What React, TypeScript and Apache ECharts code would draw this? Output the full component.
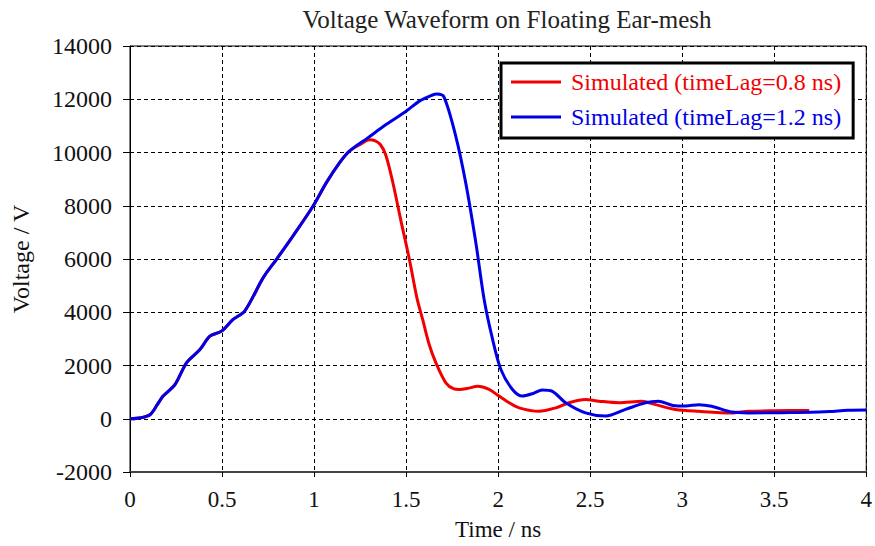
import React, { useEffect, useRef } from "react";
import * as echarts from "echarts";

const FONT = '"Liberation Serif", "Times New Roman", serif';

const titleText = "Voltage Waveform on Floating Ear-mesh";
const xName = "Time / ns";
const yName = "Voltage / V";
const seriesNames = ["Simulated (timeLag=0.8 ns)", "Simulated (timeLag=1.2 ns)"];
const seriesColors = ["#f20000", "#0000e8"];

// Blue curve: timeLag = 1.2 ns
const blueX = [0, 0.06, 0.11, 0.15, 0.18, 0.245, 0.307, 0.38, 0.434, 0.497, 0.56, 0.623, 0.723, 0.795, 0.885, 0.994, 1.066, 1.138, 1.192, 1.292, 1.391, 1.5, 1.572, 1.64, 1.667, 1.705, 1.77, 1.824, 1.879, 1.924, 1.97, 2.015, 2.078, 2.132, 2.19, 2.24, 2.295, 2.367, 2.475, 2.584, 2.692, 2.8, 2.87, 2.95, 3.02, 3.09, 3.16, 3.27, 3.36, 3.54, 3.7, 3.8, 3.9, 4.0];
const blueY = [0, 40, 160, 550, 850, 1290, 2100, 2600, 3100, 3290, 3730, 4040, 5290, 5980, 6860, 7980, 8860, 9610, 10050, 10550, 11050, 11550, 11930, 12150, 12200, 12100, 10610, 8860, 6610, 4480, 2980, 1850, 1100, 850, 950, 1080, 1030, 600, 220, 100, 350, 600, 660, 500, 480, 530, 470, 250, 220, 230, 240, 270, 320, 330];

// Red curve: timeLag = 0.8 ns
const redX = [0, 0.06, 0.11, 0.15, 0.18, 0.245, 0.307, 0.38, 0.434, 0.497, 0.56, 0.623, 0.723, 0.795, 0.885, 0.994, 1.066, 1.138, 1.192, 1.25, 1.3, 1.33, 1.36, 1.39, 1.427, 1.47, 1.518, 1.56, 1.59, 1.625, 1.662, 1.716, 1.76, 1.79, 1.84, 1.888, 1.951, 2.005, 2.06, 2.114, 2.222, 2.313, 2.385, 2.475, 2.547, 2.656, 2.782, 2.855, 2.963, 3.089, 3.27, 3.36, 3.5, 3.69];
const redY = [0, 40, 160, 550, 850, 1290, 2100, 2600, 3100, 3290, 3730, 4040, 5290, 5980, 6860, 7980, 8860, 9610, 10050, 10300, 10480, 10450, 10300, 9900, 8900, 7500, 5980, 4500, 3730, 2800, 2100, 1350, 1120, 1100, 1150, 1220, 1100, 850, 600, 410, 280, 410, 600, 720, 660, 600, 660, 530, 350, 280, 220, 280, 300, 310];

const xMin = 0;
const xMax = 4;
const xStep = 0.5;
const yMin = -2000;
const yMax = 14000;
const yStep = 2000;

function zip(xs: number[], ys: number[]) {
  return xs.map((x, i) => [x, ys[i]]);
}

export default function App() {
  const ref = useRef<HTMLDivElement>(null);
  useEffect(() => {
    if (!ref.current) return;
    const chart = echarts.init(ref.current, undefined, { renderer: "svg" });
    const splitLine = { show: true, lineStyle: { color: "#000", width: 1, type: [4, 3] as any } };
    chart.setOption({
      animation: false,
      backgroundColor: "#fff",
      title: {
        text: titleText,
        left: 502,
        top: 2,
        textAlign: "center",
        textStyle: { fontFamily: FONT, fontSize: 25, fontWeight: "normal", color: "#222" },
      },
      grid: { left: 130, right: 7, top: 46, bottom: 74, show: true, borderColor: "#000", borderWidth: 1, backgroundColor: "transparent" },
      legend: {
        left: 501,
        top: 63,
        orient: "vertical",
        icon: "rect",
        itemWidth: 50,
        itemHeight: 3,
        itemGap: 11,
        padding: [7, 12, 9, 10],
        borderColor: "#000",
        borderWidth: 3,
        backgroundColor: "#fff",
        textStyle: { fontFamily: FONT, fontSize: 24, padding: [0, 0, 0, 5] },
        data: seriesNames.map((n, i) => ({ name: n, textStyle: { color: seriesColors[i] } })),
      },
      xAxis: {
        type: "value",
        min: xMin,
        max: xMax,
        interval: xStep,
        name: xName,
        nameLocation: "middle",
        nameGap: 46,
        nameTextStyle: { fontFamily: FONT, fontSize: 23, color: "#111" },
        axisLine: { show: true, onZero: false, lineStyle: { color: "#444", width: 2 } },
        axisTick: { show: true, length: 5, lineStyle: { color: "#000" } },
        axisLabel: { fontFamily: FONT, fontSize: 23, color: "#111", margin: 16 },
        splitLine,
      },
      yAxis: {
        type: "value",
        min: yMin,
        max: yMax,
        interval: yStep,
        name: yName,
        nameLocation: "middle",
        nameRotate: 90,
        nameGap: 97,
        nameTextStyle: { fontFamily: FONT, fontSize: 24, color: "#111" },
        axisLine: { show: true, onZero: false, lineStyle: { color: "#000", width: 1 } },
        axisTick: { show: true, length: 7, lineStyle: { color: "#000" } },
        axisLabel: { fontFamily: FONT, fontSize: 24, color: "#111", margin: 18, formatter: (v: number) => String(v) },
        splitLine,
      },
      series: [
        {
          name: seriesNames[0],
          type: "line",
          data: zip(redX, redY),
          showSymbol: false,
          symbol: "none",
          smooth: 0.3,
          lineStyle: { color: seriesColors[0], width: 3 },
          itemStyle: { color: seriesColors[0] },
          z: 2,
        },
        {
          name: seriesNames[1],
          type: "line",
          data: zip(blueX, blueY),
          showSymbol: false,
          symbol: "none",
          smooth: 0.3,
          lineStyle: { color: seriesColors[1], width: 3 },
          itemStyle: { color: seriesColors[1] },
          z: 3,
        },
      ],
    });
    return () => chart.dispose();
  }, []);
  return <div ref={ref} style={{ position: "fixed", left: 0, top: 0, width: 875, height: 546 }} />;
}
